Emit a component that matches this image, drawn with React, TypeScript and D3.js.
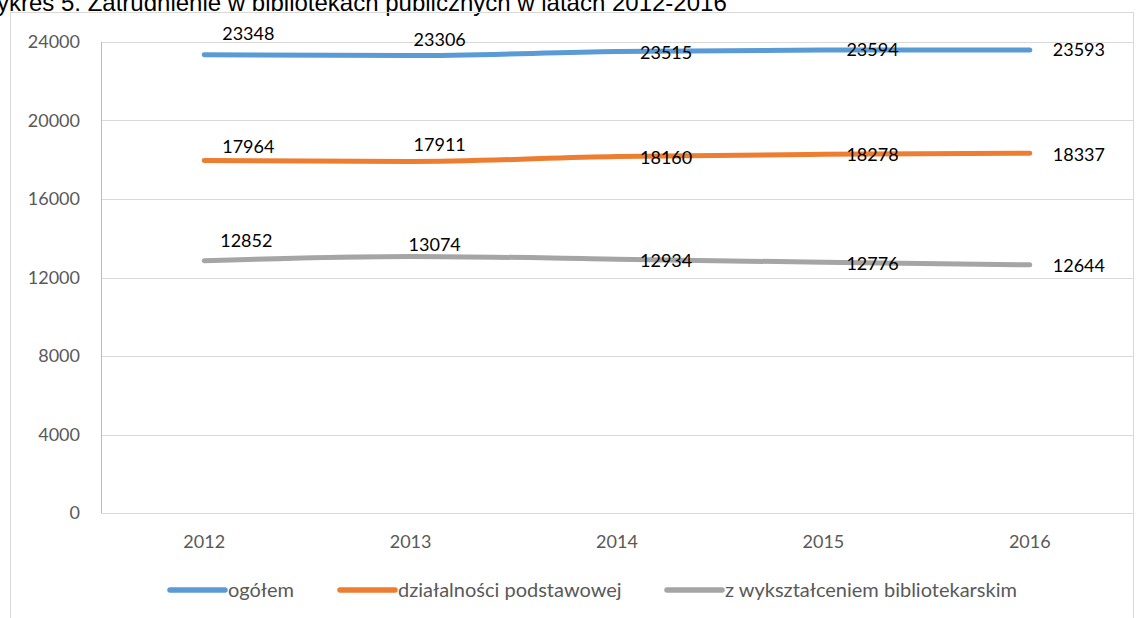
import React from "react";
import * as d3 from "d3";

const years = ["2012", "2013", "2014", "2015", "2016"];
const ogolem = [23348, 23306, 23515, 23594, 23593];
const dzialalnosci = [17964, 17911, 18160, 18278, 18337];
const wyksztalcenie = [12852, 13074, 12934, 12776, 12644];
const yTicks = [0, 4000, 8000, 12000, 16000, 20000, 24000];
const seriesNames = ["ogółem", "działalności podstawowej", "z wykształceniem bibliotekarskim"];
const titleText = "ykres 5. Zatrudnienie w bibliotekach publicznych w latach 2012-2016";

const colors = ["#5B9BD5", "#ED7D31", "#A5A5A5"];
// label offsets (px) relative to the point, per series
const labelDx = [
  [18, 3, 23, 23, 23],
  [18, 3, 23, 23, 23],
  [16, -2, 23, 23, 23],
];
const labelDy = [
  [-21, -16, 1, 0, 0],
  [-13.5, -16.5, 0.5, 0, 1],
  [-20, -12, 1, 1, 0.5],
];
const legendX = [170, 340, 667];

export default function App() {
  const W = 1147, H = 618;
  const left = 101, right = 1133, top = 42, bottom = 513;
  const x = d3.scaleBand().domain(years).range([left, right]);
  const y = d3.scaleLinear().domain([0, 24000]).range([bottom, top]);
  const data = [ogolem, dzialalnosci, wyksztalcenie];
  const cx = (i: number) => (x(years[i]) as number) + x.bandwidth() / 2;
  const line = d3
    .line<number>()
    .x((_, i) => cx(i))
    .y((d) => y(d))
    .curve(d3.curveMonotoneX);
  const font = "Lato, 'Open Sans', sans-serif";
  return (
    <svg
      width={W}
      height={H}
      style={{ position: "absolute", left: 0, top: 0, background: "#fff" }}
    >
      <text x={-3} y={10.5} fontFamily="Arial, 'Liberation Sans', sans-serif" fontSize={24} fill="#000">
        {titleText}
      </text>
      <rect x={10.5} y={12.5} width={1123} height={640} fill="none" stroke="#D9D9D9" strokeWidth={1} />
      {yTicks.map((t) => (
        <g key={t}>
          <line x1={left} x2={right} y1={Math.round(y(t)) + 0.5} y2={Math.round(y(t)) + 0.5} stroke="#D9D9D9" />
          <text
            x={80}
            y={y(t)}
            dy="0.36em"
            textAnchor="end"
            fontFamily={font}
            fontSize={18}
            fill="#595959"
          >
            {t}
          </text>
        </g>
      ))}
      <line x1={left + 0.5} x2={left + 0.5} y1={top} y2={bottom} stroke="#9DC3E6" />
      {years.map((yr, i) => (
        <text
          key={yr}
          x={cx(i)}
          y={542}
          dy="0.36em"
          textAnchor="middle"
          fontFamily={font}
          fontSize={18}
          fill="#595959"
        >
          {yr}
        </text>
      ))}
      {data.map((s, si) => (
        <path
          key={si}
          d={line(s) || ""}
          fill="none"
          stroke={colors[si]}
          strokeWidth={5}
          strokeLinecap="round"
          strokeLinejoin="round"
        />
      ))}
      {data.map((s, si) =>
        s.map((v, i) => (
          <text
            key={si + "-" + i}
            x={cx(i) + labelDx[si][i]}
            y={y(v) + labelDy[si][i]}
            dy="0.36em"
            fontFamily={font}
            fontSize={18}
            fill="#000"
          >
            {v}
          </text>
        ))
      )}
      {seriesNames.map((n, i) => (
        <g key={n}>
          <line
            x1={legendX[i]}
            x2={legendX[i] + 55}
            y1={590}
            y2={590}
            stroke={colors[i]}
            strokeWidth={5.5}
            strokeLinecap="round"
          />
          <text
            x={legendX[i] + 58}
            y={590}
            dy="0.36em"
            fontFamily={font}
            fontSize={20}
            fill="#595959"
          >
            {n}
          </text>
        </g>
      ))}
    </svg>
  );
}
